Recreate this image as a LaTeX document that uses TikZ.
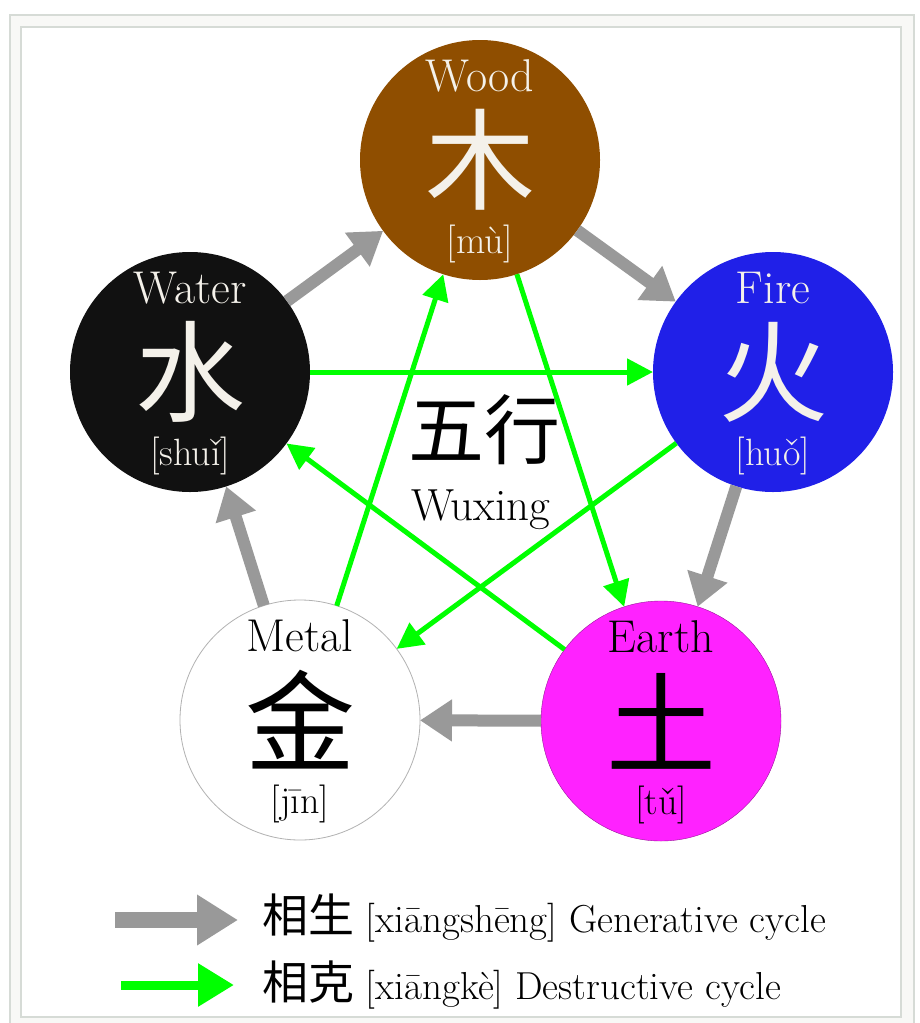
\documentclass[tikz,border=0pt]{standalone}
\usepackage{fontspec}
\newfontfamily\cjk{Noto Sans CJK SC}
\usepackage{tikz}
\usetikzlibrary{arrows.meta}
\definecolor{woodbrown}{RGB}{143,78,0}
\definecolor{fireblue}{RGB}{32,32,232}
\definecolor{earthpink}{RGB}{255,34,255}
\definecolor{waterblack}{RGB}{17,17,17}
\definecolor{paletext}{RGB}{244,241,234}
\definecolor{shenggray}{RGB}{153,153,153}
\definecolor{kegreen}{RGB}{0,255,0}
\definecolor{framegray}{RGB}{214,219,214}
\definecolor{framebg}{RGB}{248,248,246}
\tikzstyle{element} = [circle, minimum size=240pt, inner sep=0pt, outer sep=0pt]
\tikzstyle{elemname} = [font=\fontsize{46}{46}\selectfont]
\tikzstyle{elemchar} = [font=\cjk\fontsize{110}{110}\selectfont]
\tikzstyle{elempinyin} = [font=\fontsize{38}{38}\selectfont]
\tikzstyle{generate} = [-{Triangle[length=32pt, width=40pt]}, line width=12pt, shenggray]
\tikzstyle{destroy} = [-{Triangle[length=26pt, width=26pt]}, line width=5pt, kegreen]
\tikzstyle{legendtext} = [anchor=west, inner sep=0pt, font=\fontsize{39}{39}\selectfont]

\begin{document}
\begin{tikzpicture}[x=1pt, y=-1pt]
                \useasboundingbox (0,0) rectangle (919,1023);
                % frame
                \filldraw[fill=framebg, draw=framegray, line width=1.5pt] (10,15) rectangle (914,1040);
                \filldraw[fill=white, draw=framegray, line width=1.5pt] (21,27) rectangle (901,1017);
                % the five elements
                \node[element, fill=woodbrown] (wood) at (480,160) {};
                \node[element, fill=fireblue] (fire) at (773,372) {};
                \node[element, fill=earthpink, draw=earthpink!60!black, line width=0.4pt] (earth) at (661,721) {};
                \node[element, fill=white, draw=gray!60, line width=0.8pt] (metal) at (300,720) {};
                \node[element, fill=waterblack] (water) at (190,372) {};
                \node[elemname, text=paletext] (woodname) at ([yshift=84pt]wood.center) {Wood};
                \node[elemchar, text=paletext] (woodchar) at (wood.center) {木};
                \node[elempinyin, text=paletext] (woodpy) at ([yshift=-84pt]wood.center) {[mù]};
                \node[elemname, text=paletext] (firename) at ([yshift=84pt]fire.center) {Fire};
                \node[elemchar, text=paletext] (firechar) at (fire.center) {火};
                \node[elempinyin, text=paletext] (firepy) at ([yshift=-84pt]fire.center) {[huǒ]};
                \node[elemname, text=black] (earthname) at ([yshift=84pt]earth.center) {Earth};
                \node[elemchar, text=black] (earthchar) at (earth.center) {土};
                \node[elempinyin, text=black] (earthpy) at ([yshift=-84pt]earth.center) {[tǔ]};
                \node[elemname, text=black] (metalname) at ([yshift=84pt]metal.center) {Metal};
                \node[elemchar, text=black] (metalchar) at (metal.center) {金};
                \node[elempinyin, text=black] (metalpy) at ([yshift=-84pt]metal.center) {[jīn]};
                \node[elemname, text=paletext] (watername) at ([yshift=84pt]water.center) {Water};
                \node[elemchar, text=paletext] (waterchar) at (water.center) {水};
                \node[elempinyin, text=paletext] (waterpy) at ([yshift=-84pt]water.center) {[shuǐ]};
                % generative cycle
                \draw[generate] (water) -- (wood);
                \draw[generate] (wood) -- (fire);
                \draw[generate] (fire) -- (earth);
                \draw[generate] (earth) -- (metal);
                \draw[generate] (metal) -- (water);
                % destructive cycle
                \draw[destroy] (water) -- (fire);
                \draw[destroy] (fire) -- (metal);
                \draw[destroy] (metal) -- (wood);
                \draw[destroy] (wood) -- (earth);
                \draw[destroy] (earth) -- (water);
                % centre
                \node[font=\cjk\fontsize{76}{76}\selectfont] (wuxingchar) at (484,430) {五行};
                \node[font=\fontsize{45}{45}\selectfont] (wuxing) at (481,510) {Wuxing};
                % legend
                \coordinate (genfrom) at (115,920);
                \coordinate (gento) at (238,920);
                \draw[-{Triangle[length=41pt, width=48pt]}, line width=16pt, shenggray] (genfrom) -- (gento);
                \node[legendtext] (gentext) at (262,918) {{\cjk\fontsize{46}{46}\selectfont 相生} [xiāngshēng] Generative cycle};
                \coordinate (kefrom) at (121,985);
                \coordinate (keto) at (234,985);
                \draw[-{Triangle[length=36pt, width=41pt]}, line width=9pt, kegreen] (kefrom) -- (keto);
                \node[legendtext] (ketext) at (262,985) {{\cjk\fontsize{46}{46}\selectfont 相克} [xiāngkè] Destructive cycle};
            \end{tikzpicture}
\end{document}
